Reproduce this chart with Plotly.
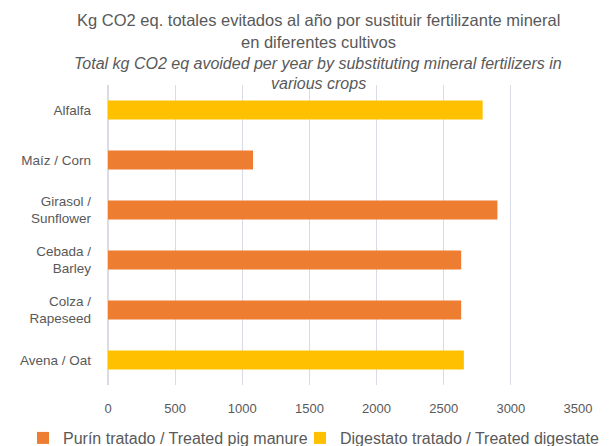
import plotly.graph_objects as go

# Crops (top to bottom as drawn)
crops = ["Alfalfa", "Maíz / Corn", "Girasol /<br>Sunflower", "Cebada /<br>Barley",
         "Colza /<br>Rapeseed", "Avena / Oat"]

# Kg CO2 eq avoided per year, by fertilizer source (None = not applied)
purin = [None, 1080, 2900, 2630, 2630, None]
digestato = [2790, None, None, None, None, 2650]

series_names = ["Purín tratado / Treated pig manure", "Digestato tratado / Treated digestate"]
x_ticks = [0, 500, 1000, 1500, 2000, 2500, 3000, 3500]

title_lines = ["Kg CO2 eq. totales evitados al año por sustituir fertilizante mineral",
               "en diferentes cultivos"]
subtitle_lines = ["Total kg CO2 eq avoided per year by substituting mineral fertilizers in",
                  "various crops"]

TEXT = "#595959"
FONT = "Liberation Sans"
W, H = 612, 446
L, R, T, B = 108, 34, 85, 61
PW, PH = W - L - R, H - T - B

fig = go.Figure()
fig.add_trace(go.Bar(y=crops, x=purin, orientation="h", name=series_names[0],
                     marker=dict(color="#ED7D31", line=dict(width=0)), legend="legend"))
fig.add_trace(go.Bar(y=crops, x=digestato, orientation="h", name=series_names[1],
                     marker=dict(color="#FFC000", line=dict(width=0)), legend="legend2"))

# Title and subtitle, one annotation per line (pixel positions on the page)
title_cx = (318 - L) / PW
annotations = []
for text, ypx in zip(title_lines, [20, 42]):
    annotations.append(dict(text=text, xref="paper", yref="paper", x=title_cx,
                            y=1 + (T - ypx) / PH, xanchor="center", yanchor="middle",
                            showarrow=False, font=dict(size=16.5, color=TEXT, family=FONT)))
for text, ypx in zip(subtitle_lines, [63, 84]):
    annotations.append(dict(text="<i>" + text + "</i>", xref="paper", yref="paper", x=title_cx,
                            y=1 + (T - ypx) / PH, xanchor="center", yanchor="middle",
                            showarrow=False, font=dict(size=16, color=TEXT, family=FONT)))

legend_common = dict(orientation="h", yref="container", y=1 - 438 / H, yanchor="middle",
                     xref="container", xanchor="left", itemwidth=30,
                     font=dict(size=16, color=TEXT, family=FONT), bgcolor="rgba(0,0,0,0)")

fig.update_layout(
    width=W, height=H,
    margin=dict(l=L, r=R, t=T, b=B, autoexpand=False),
    paper_bgcolor="white", plot_bgcolor="white",
    barmode="overlay", bargap=0.62,
    font=dict(family=FONT, color=TEXT, size=13),
    showlegend=True,
    legend=dict(x=23 / W, **legend_common),
    legend2=dict(x=300 / W, **legend_common),
    annotations=annotations,
)

fig.update_xaxes(range=[0, 3500], tickvals=x_ticks, showgrid=True, gridcolor="#D9DCE6",
                 gridwidth=1, zeroline=True, zerolinecolor="#D9DCE6", showline=False,
                 ticks="", ticklabelstandoff=14, tickfont=dict(size=13, color=TEXT))
fig.update_yaxes(autorange="reversed", showgrid=False, showline=False, ticks="",
                 ticklabelstandoff=16, tickfont=dict(size=13.5, color=TEXT))

fig.write_html("out.html")
